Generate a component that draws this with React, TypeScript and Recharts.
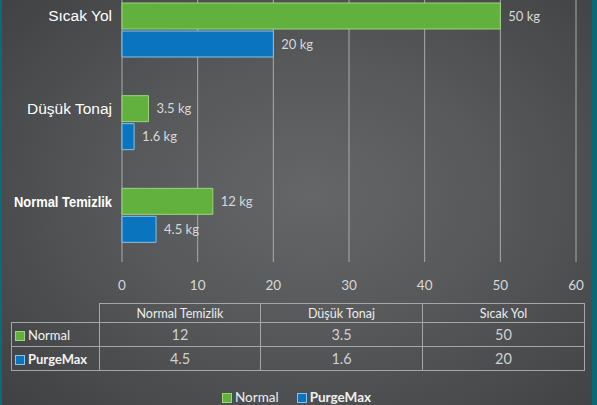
import React from 'react';
import { BarChart, Bar, XAxis, YAxis, CartesianGrid, LabelList } from 'recharts';

// categories in data-table order (chart shows them reversed, top = last)
const categories = ['Normal Temizlik', 'Düşük Tonaj', 'Sıcak Yol'];
const normalValues = [12, 3.5, 50];
const purgeMaxValues = [4.5, 1.6, 20];
const xTicks = [0, 10, 20, 30, 40, 50, 60];

const GREEN = '#62b13f';
const GREEN_EDGE = '#9ad67a';
const BLUE = '#0a74be';
const BLUE_EDGE = '#86c2ea';
const TEXT = '#d8d8d8';
const TABLE_LINE = '#a4a6a8';

const data = categories.map((name, i) => ({
  name,
  Normal: normalValues[i],
  PurgeMax: purgeMaxValues[i],
}));

if (typeof document !== 'undefined') document.body.style.margin = '0';

// labels sit level with the green (first) bar, not the band centre
const CategoryTick = (props: any) => {
  const { x, y, payload } = props;
  const bold = payload.value === 'Normal Temizlik';
  return (
    <text
      x={x}
      y={y}
      dy={-9}
      textAnchor="end"
      fill="#ffffff"
      fontFamily={bold ? '"Liberation Sans Narrow", "Liberation Sans", Arial, sans-serif' : '"Liberation Sans", Arial, sans-serif'}
      fontWeight={bold ? 700 : 400}
      fontSize={bold ? 14 : 15.5}
      {...(bold ? { textLength: 98, lengthAdjust: 'spacingAndGlyphs' } : {})}
    >
      {payload.value}
    </text>
  );
};

const Swatch = ({ color, edge }: { color: string; edge: string }) => (
  <span
    style={{
      display: 'inline-block',
      width: 8,
      height: 8,
      background: color,
      border: `1px solid ${edge}`,
      marginRight: 3,
      verticalAlign: -1,
    }}
  />
);

const cell: React.CSSProperties = {
  border: `1px solid ${TABLE_LINE}`,
  padding: 0,
  textAlign: 'center',
  color: TEXT,
};

export default function App() {
  const tableFont = 'Lato, "Open Sans", sans-serif';
  const rows = [
    { label: 'Normal', values: normalValues, color: GREEN, edge: GREEN_EDGE, bold: false },
    { label: 'PurgeMax', values: purgeMaxValues, color: BLUE, edge: BLUE_EDGE, bold: true },
  ];
  return (
    <div
      style={{
        position: 'relative',
        width: 597,
        height: 405,
        overflow: 'hidden',
        background:
          'radial-gradient(ellipse 70% 75% at 52% 48%, #646668 0%, #56585a 45%, #3f4143 100%)',
      }}
    >
      <div style={{ position: 'absolute', left: 0, top: 0, width: 2, height: 405, background: '#0b6b78' }} />
      <div style={{ position: 'absolute', right: 0, top: 0, width: 5, height: 405, background: '#066a78' }} />

      <div style={{ position: 'absolute', left: 0, top: -20 }}>
        <BarChart
          width={597}
          height={340}
          data={data}
          layout="vertical"
          margin={{ top: 4, right: 21, bottom: 28, left: 0 }}
          barSize={26}
          barGap={2}
        >
          <CartesianGrid horizontal={false} vertical stroke="#a9abad" strokeWidth={1} />
          <XAxis
            type="number"
            domain={[0, 60]}
            ticks={xTicks}
            axisLine={false}
            tickLine={false}
            tickMargin={12}
            height={30}
            tick={{ fill: TEXT, fontSize: 13.5, fontFamily: 'Lato, "Open Sans", sans-serif' }}
          />
          <YAxis
            type="category"
            dataKey="name"
            reversed
            width={122}
            axisLine={false}
            tickLine={false}
            tickMargin={4}
            tick={<CategoryTick />}
          />
          <Bar dataKey="Normal" fill={GREEN} stroke={GREEN_EDGE} strokeWidth={1} isAnimationActive={false}>
            <LabelList
              dataKey="Normal"
              position="right"
              offset={8}
              formatter={(v: any) => `${v} kg`}
              fill={TEXT}
              fontSize={13}
              fontFamily='Lato, "Open Sans", sans-serif'
            />
          </Bar>
          <Bar dataKey="PurgeMax" fill={BLUE} stroke={BLUE_EDGE} strokeWidth={1} isAnimationActive={false}>
            <LabelList
              dataKey="PurgeMax"
              position="right"
              offset={8}
              formatter={(v: any) => `${v} kg`}
              fill={TEXT}
              fontSize={13}
              fontFamily='Lato, "Open Sans", sans-serif'
            />
          </Bar>
        </BarChart>
      </div>

      <table
        style={{
          position: 'absolute',
          left: 11,
          top: 303,
          borderCollapse: 'collapse',
          fontFamily: tableFont,
          fontSize: 12.5,
          tableLayout: 'fixed',
        }}
      >
        <colgroup>
          <col style={{ width: 88 }} />
          <col style={{ width: 161 }} />
          <col style={{ width: 162 }} />
          <col style={{ width: 162 }} />
        </colgroup>
        <tbody>
          <tr style={{ height: 19 }}>
            <td style={{ ...cell, border: 'none', borderRight: `1px solid ${TABLE_LINE}`, borderBottom: `1px solid ${TABLE_LINE}` }} />
            {categories.map((c) => (
              <td key={c} style={{ ...cell, color: '#ececec' }}>{c}</td>
            ))}
          </tr>
          {rows.map((r) => (
            <tr key={r.label} style={{ height: 24 }}>
              <td style={{ ...cell, textAlign: 'left', paddingLeft: 3, color: '#f2f2f2', fontWeight: r.bold ? 700 : 400, fontSize: 13 }}>
                <Swatch color={r.color} edge={r.edge} />
                {r.label}
              </td>
              {r.values.map((v, i) => (
                <td key={i} style={{ ...cell, fontSize: 14.5, color: '#cfd0d1' }}>{v}</td>
              ))}
            </tr>
          ))}
        </tbody>
      </table>

      <div
        style={{
          position: 'absolute',
          left: 222,
          top: 389,
          fontFamily: tableFont,
          fontSize: 13.5,
          lineHeight: '16px',
          color: '#eeeeee',
          whiteSpace: 'nowrap',
        }}
      >
        <Swatch color={GREEN} edge={GREEN_EDGE} />
        <span style={{ marginRight: 18 }}>Normal</span>
        <Swatch color={BLUE} edge={BLUE_EDGE} />
        <span style={{ fontWeight: 700 }}>PurgeMax</span>
      </div>
    </div>
  );
}
